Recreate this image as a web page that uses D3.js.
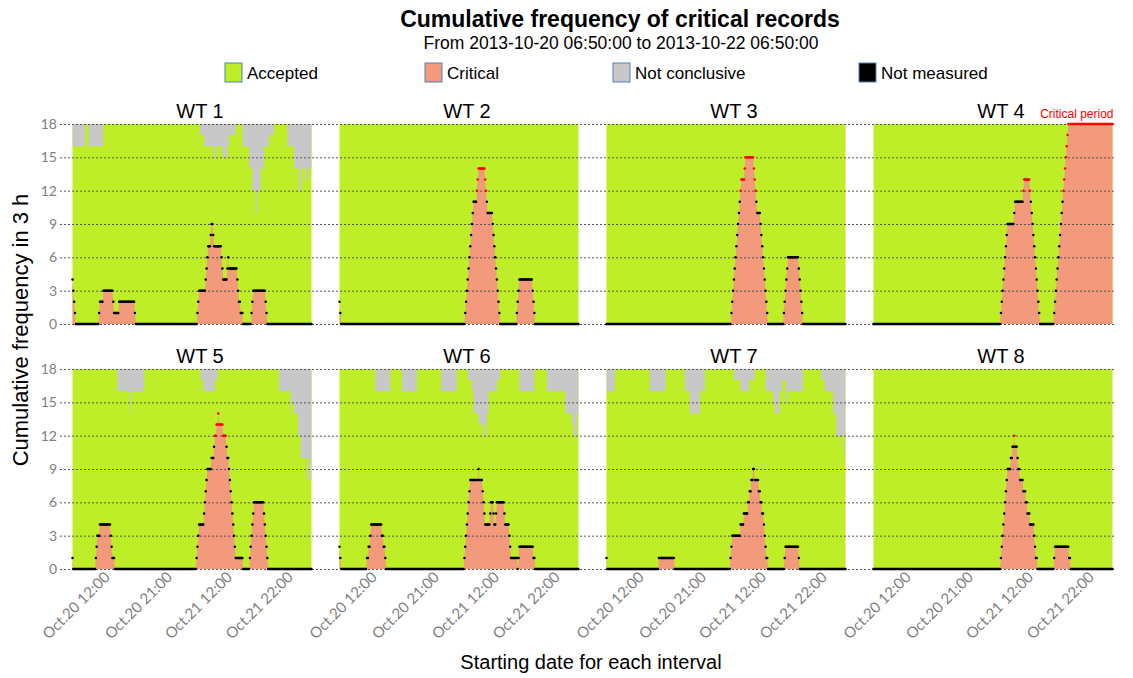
<!DOCTYPE html>
<html lang="en">
<head>
<meta charset="UTF-8">
<title>Cumulative frequency of critical records</title>
<script src="https://cdn.jsdelivr.net/npm/d3@7"></script>
<style>
    body { margin: 0; background: #fff; }
    text { font-family: "Liberation Sans", Arial, sans-serif; }
    .tick text { font-family: Lato, "Liberation Sans", sans-serif; fill: #808080; }
</style>
</head>
<body>
<script>
    // 10-minute intervals over 48 h (2013-10-20 06:50 -> 2013-10-22 06:50)
    const nSteps = 288;
    const turbines = ["WT 1", "WT 2", "WT 3", "WT 4", "WT 5", "WT 6", "WT 7", "WT 8"];
    const yTicks = [0, 3, 6, 9, 12, 15, 18];
    const tickIndex = [43, 118, 190, 263];
    const tickLabels = ["Oct.20 12:00", "Oct.20 21:00", "Oct.21 12:00", "Oct.21 22:00"];
    const legendLabels = ["Accepted", "Critical", "Not conclusive", "Not measured"];

    // run notation: a number is one interval, [value, count] repeats value
    const criticalWT1 = [4,3,2,1,[0,28],1,[2,4],[3,12],2,[1,6],[2,19],1,[0,74],1,2,[3,8],4,5,6,[7,3],8,[9,2],8,[7,9],6,5,[4,5],5,6,[5,10],4,3,[2,2],[1,3],[0,10],1,2,[3,15],2,1,[0,54]];
    const criticalWT2 = [2,1,[0,149],1,2,3,4,5,6,7,8,9,10,[11,4],12,13,[14,8],13,12,11,[10,6],9,8,7,6,5,4,3,2,1,[0,20],1,2,3,[4,16],3,2,1,[0,53]];
    const criticalWT3 = [[0,150],1,2,3,4,5,6,7,8,9,10,11,12,[13,4],14,[15,10],14,13,12,11,[10,4],9,8,7,6,5,4,3,2,1,[0,19],1,2,3,4,5,[6,13],5,4,3,2,1,[0,52]];
    const criticalWT4 = [[0,153],1,2,3,4,5,6,7,8,[9,8],10,[11,10],12,[13,7],12,11,10,9,8,7,6,5,4,3,2,1,[0,17],1,2,3,4,5,6,7,8,9,10,11,12,13,14,15,16,17,[18,54]];
    const criticalWT5 = [1,[0,27],1,2,[3,3],[4,13],3,2,[1,3],[0,98],1,2,3,[4,6],5,6,7,8,[9,5],[10,3],11,[12,2],[13,2],14,[13,5],[12,4],11,[10,2],9,8,7,6,5,4,3,2,[1,9],[0,8],1,2,3,4,5,[6,12],5,4,3,2,1,[0,53]];
    const criticalWT6 = [2,1,[0,31],[1,2],[2,2],3,[4,13],[3,2],[2,2],1,[0,94],1,2,3,4,5,6,7,[8,10],9,[8,4],7,6,5,[4,6],5,[6,3],5,[4,2],5,[6,9],5,[4,5],3,2,[1,8],0,1,[2,17],[1,2],[0,53]];
    const criticalWT7 = [1,[0,62],[1,19],[0,67],1,2,[3,10],[4,4],[5,5],[6,2],[7,2],[8,2],[9,2],[8,5],[7,2],[6,2],[5,2],4,3,2,[1,2],[0,20],1,[2,16],1,[0,56]];
    const criticalWT8 = [[0,153],1,2,3,4,5,6,7,8,[9,4],[10,2],[11,2],12,[11,3],10,[9,2],[8,4],[7,3],[6,2],[5,3],[4,5],3,2,[1,2],[0,20],1,[2,17],[1,2],[0,51]];

    // not conclusive records in the same 3 h window (stacked down from 18)
    const notConclusiveWT1 = [[2,15],[0,4],[2,18],[0,116],[1,5],[2,11],3,2,3,2,3,[2,6],[3,6],[2,2],[1,8],[0,8],[2,8],[4,4],[6,4],[8,2],[6,4],[4,4],[2,6],[1,6],[0,16],[2,8],[4,6],[6,3],[4,5],[5,3],[4,5]];
    const notConclusiveWT2 = [[0,288]];
    const notConclusiveWT3 = [[0,288]];
    const notConclusiveWT4 = [[0,288]];
    const notConclusiveWT5 = [[0,54],[2,15],3,4,[2,15],[0,68],[1,3],[2,14],[1,3],[0,74],[2,14],4,[3,3],[4,5],[6,3],[8,6],10,[8,3],[10,4]];
    const notConclusiveWT6 = [[0,43],[2,18],[0,14],[2,18],[0,29],[2,19],[0,13],[1,5],[2,2],[4,6],[5,4],6,[5,2],6,5,6,[4,2],[2,10],[1,4],[0,23],[2,18],[0,15],[2,22],[4,8],[5,2],[6,4],[4,3]];
    const notConclusiveWT7 = [[2,10],[0,42],[2,19],[0,23],[2,6],[4,12],[2,6],[0,35],[1,8],[2,10],[1,7],[0,13],[2,9],[3,2],[4,6],[2,3],[1,4],[3,2],[2,19],[0,22],[1,4],[2,10],[4,4],[6,4],7,[6,5],[8,2]];
    const notConclusiveWT8 = [[0,288]];

    const criticalRuns = [criticalWT1, criticalWT2, criticalWT3, criticalWT4, criticalWT5, criticalWT6, criticalWT7, criticalWT8];
    const notConclusiveRuns = [notConclusiveWT1, notConclusiveWT2, notConclusiveWT3, notConclusiveWT4, notConclusiveWT5, notConclusiveWT6, notConclusiveWT7, notConclusiveWT8];

    const colors = {
        accepted: "#bdee28",
        critical: "#f29a7b",
        notConclusive: "#c8c8c8",
        notMeasured: "#000000",
        alarm: "#ff0000"
    };
    const legendColors = [colors.accepted, colors.critical, colors.notConclusive, colors.notMeasured];

    const size = { width: 1133, height: 678 };
    const plot = { left: 72.5, top: 124, panelW: 239, panelH: 200, colStep: 267, rowStep: 245 };

    function expand(runs) {
        const out = [];
        runs.forEach(r => {
            if (Array.isArray(r)) { for (let k = 0; k < r[1]; k++) out.push(r[0]); }
            else out.push(r);
        });
        return out.slice(0, nSteps);
    }

    const svg = d3.select("body").append("svg")
        .attr("width", size.width)
        .attr("height", size.height);

    const x = d3.scaleLinear().domain([0, nSteps - 1]).range([0, plot.panelW]);
    const y = d3.scaleLinear().domain([0, 18]).range([plot.panelH, 0]);

    // header
    svg.append("text")
        .attr("x", 620).attr("y", 27)
        .attr("text-anchor", "middle")
        .attr("font-size", 23).attr("font-weight", "bold")
        .text("Cumulative frequency of critical records");
    svg.append("text")
        .attr("x", 621).attr("y", 49)
        .attr("text-anchor", "middle")
        .attr("font-size", 17.5)
        .text("From 2013-10-20 06:50:00 to 2013-10-22 06:50:00");

    // legend
    const legendX = [225, 425, 613, 859];
    legendLabels.forEach((label, i) => {
        const g = svg.append("g").attr("transform", `translate(${legendX[i]}, 63)`);
        g.append("rect")
            .attr("width", 17).attr("height", 19)
            .attr("fill", legendColors[i])
            .attr("stroke", "#4f81bd").attr("stroke-width", 1);
        g.append("text")
            .attr("x", 22).attr("y", 16)
            .attr("font-size", 17)
            .text(label);
    });

    const areaLayer = svg.append("g");
    const gridLayer = svg.append("g");
    const dotLayer = svg.append("g");

    const critArea = d3.area()
        .x((d, i) => x(i))
        .y0(y(0))
        .y1(d => y(d));
    const greyArea = d3.area()
        .x((d, i) => x(i))
        .y0(y(18))
        .y1(d => y(18 - d))
        .curve(d3.curveStepAfter);

    turbines.forEach((name, i) => {
        const col = i % 4, row = Math.floor(i / 4);
        const tx = plot.left + col * plot.colStep;
        const ty = plot.top + row * plot.rowStep;
        const crit = expand(criticalRuns[i]);
        const grey = expand(notConclusiveRuns[i]);

        const g = areaLayer.append("g").attr("transform", `translate(${tx}, ${ty})`);
        g.append("rect")
            .attr("width", plot.panelW).attr("height", plot.panelH)
            .attr("fill", colors.accepted);
        g.append("path").datum(grey)
            .attr("d", greyArea)
            .attr("fill", colors.notConclusive);
        g.append("path").datum(crit)
            .attr("d", critArea)
            .attr("fill", colors.critical);

        g.append("text")
            .attr("x", plot.panelW / 2 + 8).attr("y", -6)
            .attr("text-anchor", "middle")
            .attr("font-size", 20)
            .text(name);

        const dg = dotLayer.append("g").attr("transform", `translate(${tx}, ${ty})`);
        dg.selectAll("circle").data(crit).join("circle")
            .attr("cx", (d, k) => x(k))
            .attr("cy", d => y(d))
            .attr("r", 1.25)
            .attr("fill", d => d >= 12 ? colors.alarm : colors.notMeasured);

        if (row === 1) {
            const ax = g.append("g")
                .attr("transform", `translate(0, ${plot.panelH})`)
                .call(d3.axisBottom(x).tickValues(tickIndex).tickSize(0)
                    .tickFormat((d, k) => tickLabels[k]));
            ax.select(".domain").remove();
            ax.selectAll("text")
                .attr("y", 0).attr("dy", 0)
                .attr("transform", "translate(2,9) rotate(-45)")
                .attr("text-anchor", "end")
                .attr("font-size", 15);
        }

        if (crit[crit.length - 1] === 18) {
            g.append("text")
                .attr("x", plot.panelW + 1).attr("y", -6)
                .attr("text-anchor", "end")
                .attr("font-size", 12)
                .attr("fill", colors.alarm)
                .text("Critical period");
        }
    });

    // dashed gridlines and y labels across each row
    [0, 1].forEach(row => {
        const ay = gridLayer.append("g")
            .attr("transform", `translate(60, ${plot.top + row * plot.rowStep})`)
            .call(d3.axisLeft(y).tickValues(yTicks).tickSize(-1056).tickPadding(3));
        ay.select(".domain").remove();
        ay.selectAll(".tick line")
            .attr("stroke", "#555")
            .attr("stroke-dasharray", "2,2");
        ay.selectAll(".tick text").attr("font-size", 14);
    });

    // axis titles
    svg.append("text")
        .attr("transform", "translate(28, 330) rotate(-90)")
        .attr("text-anchor", "middle")
        .attr("font-size", 22)
        .text("Cumulative frequency in 3 h");
    svg.append("text")
        .attr("x", 591).attr("y", 669)
        .attr("text-anchor", "middle")
        .attr("font-size", 20)
        .text("Starting date for each interval");
</script>
</body>
</html>
